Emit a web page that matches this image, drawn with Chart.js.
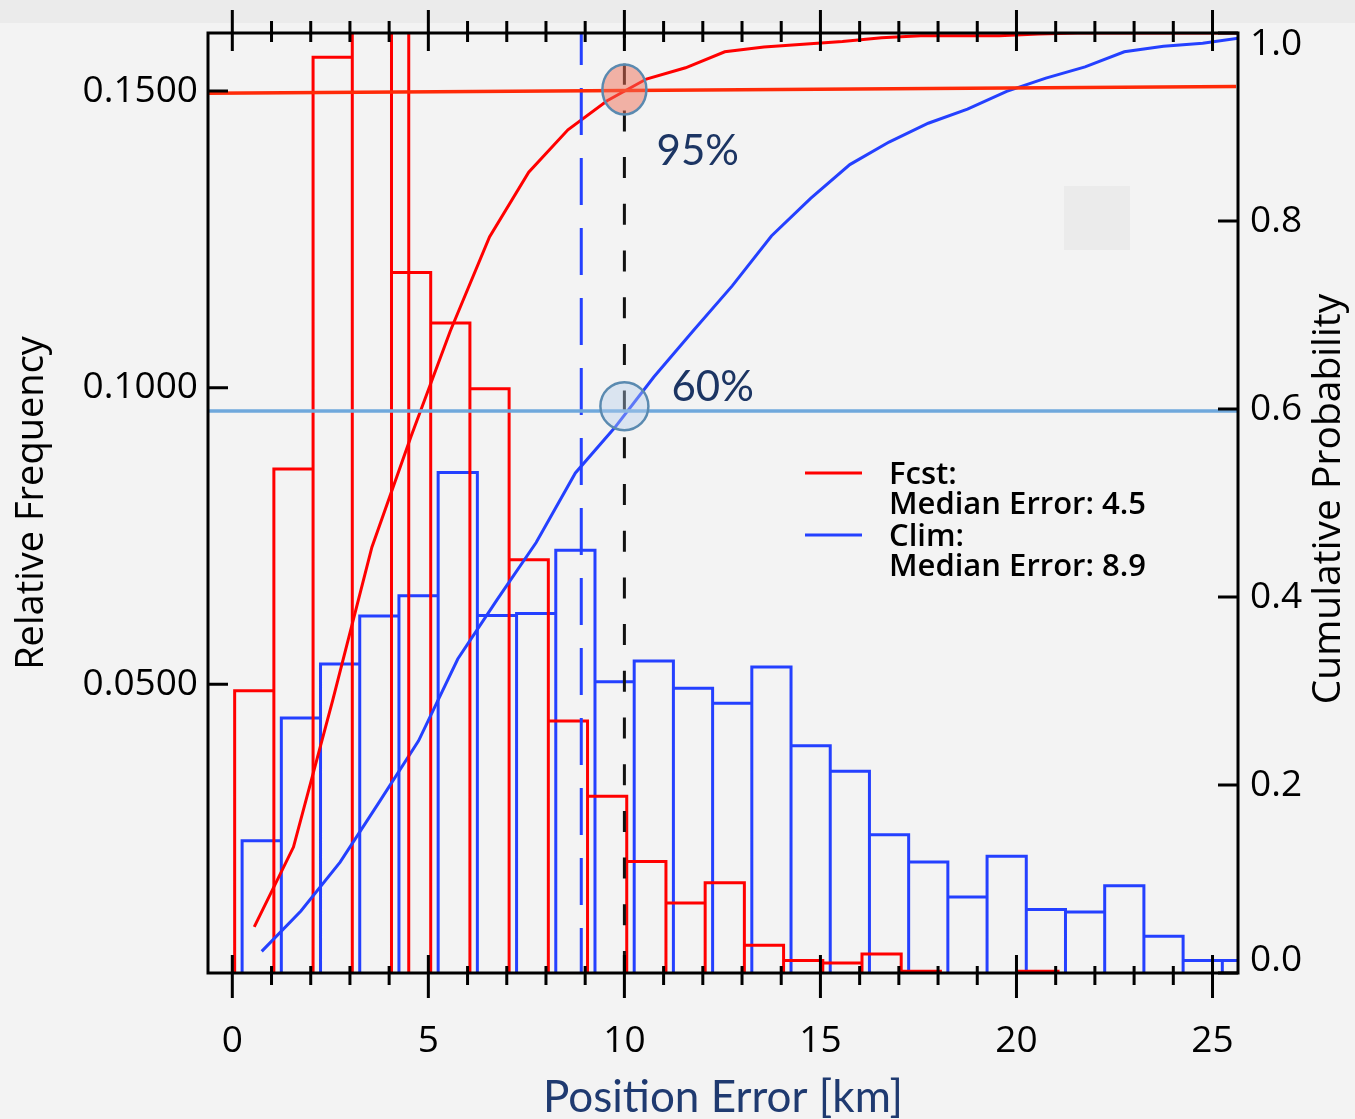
<!DOCTYPE html>
<html lang="en">
<head>
<meta charset="UTF-8">
<title>Position Error</title>
<script src="https://cdn.jsdelivr.net/npm/chart.js"></script>
<style>
  html, body { margin: 0; padding: 0; background: #f3f3f3; }
  .wrap { position: relative; width: 1355px; height: 1119px; }
  .band { position: absolute; left: 0; top: 0; width: 1355px; height: 23px; background: #ebebeb; }
  .patch { position: absolute; left: 1064px; top: 186px; width: 66px; height: 64px; background: #ebebeb; }
  canvas { position: absolute; left: 0; top: 0; }
</style>
</head>
<body>
<div class="wrap">
  <div class="band"></div>
  <div class="patch"></div>
  <canvas id="grafico" width="1355" height="1119"></canvas>
</div>

<script>
    // histogram bins: left edge [km], width 1 km
    const fcstBinLeft = [0.06, 1.06, 2.06, 3.06, 4.06, 5.06, 6.06, 7.06, 8.06, 9.06, 10.06, 11.06, 12.06, 13.06,
        14.06, 15.06, 16.06, 17.06, 18.06, 19.06, 20.06, 21.06, 22.06, 23.06, 24.06, 25.06, 26.06];
    const fcstFreq = [0.0489, 0.0863, 0.1557, 0.162, 0.1194, 0.1109, 0.0998, 0.0710, 0.0438, 0.0311, 0.0201, 0.0131,
        0.0165, 0.0060, 0.0034, 0.0030, 0.0045, 0.0016, 0, 0, 0.0016, 0, 0, 0, 0, 0, 0];

    const climBinLeft = [0.25, 1.25, 2.25, 3.25, 4.25, 5.25, 6.25, 7.25, 8.25, 9.25, 10.25, 11.25, 12.25, 13.25,
        14.25, 15.25, 16.25, 17.25, 18.25, 19.25, 20.25, 21.25, 22.25, 23.25, 24.25, 25.25];
    const climFreq = [0.0236, 0.0443, 0.0534, 0.0615, 0.0649, 0.0857, 0.0616, 0.0619, 0.0726, 0.0504, 0.0539, 0.0493,
        0.0468, 0.0529, 0.0396, 0.0353, 0.0246, 0.0200, 0.0141, 0.0210, 0.0120, 0.0116, 0.0160, 0.0075, 0.0034, 0.0034];

    // cumulative probability curves
    const fcstCdfKm = [0.56, 1.56, 2.56, 3.56, 4.56, 5.56, 6.56, 7.56, 8.56, 9.56, 10.56, 11.56, 12.56, 13.56,
        14.56, 15.56, 16.56, 17.56, 18.56, 19.56, 20.56, 21.56, 22.56, 23.56, 24.56, 25.56, 26.56];
    const fcstCdf = [0.049, 0.134, 0.290, 0.453, 0.571, 0.683, 0.783, 0.852, 0.897, 0.928, 0.951, 0.963, 0.980,
        0.985, 0.988, 0.991, 0.995, 0.997, 0.997, 0.997, 0.999, 1.0, 1.0, 1.0, 1.0, 1.0, 1.0];

    const climCdfKm = [0.75, 1.75, 2.75, 3.75, 4.75, 5.75, 6.75, 7.75, 8.75, 9.75, 10.75, 11.75, 12.75, 13.75,
        14.75, 15.75, 16.75, 17.75, 18.75, 19.75, 20.75, 21.75, 22.75, 23.75, 24.75, 25.75];
    const climCdf = [0.023, 0.066, 0.118, 0.182, 0.247, 0.334, 0.397, 0.458, 0.532, 0.580, 0.634, 0.683, 0.731,
        0.784, 0.824, 0.860, 0.884, 0.904, 0.919, 0.938, 0.952, 0.964, 0.980, 0.986, 0.989, 0.995];

    const fcstMedian = 4.5;
    const climMedian = 8.9;
    const refKm = 10;
    const fcstLevel = [0.936, 0.943];   // 95% guide (left end, right end)
    const climLevel = 0.598;            // 60% guide

    const kmTicks = [0, 5, 10, 15, 20, 25];
    const freqTicks = [0.05, 0.10, 0.15];
    const probTicks = [0, 0.2, 0.4, 0.6, 0.8, 1.0];

    const callouts = [
        { text: '95%', ringP: 0.94, km: 10.82, p: 0.874 },
        { text: '60%', ringP: 0.603, km: 11.2, p: 0.623 }
    ];
    const legendItems = [
        { lines: ['Fcst:', 'Median Error: ' + fcstMedian], color: '#ff0000' },
        { lines: ['Clim:', 'Median Error: ' + climMedian], color: '#2440ff' }
    ];

    const xMin = -0.62, xMax = 25.65;
    const binWidth = 1;

    function contorno(lefts, heights) {
        let pts = [];
        for (let i = 0; i < lefts.length; i++) {
            let a = lefts[i], b = a + binWidth;
            pts.push({ x: a, y: 0 }, { x: a, y: heights[i] }, { x: b, y: heights[i] }, { x: b, y: 0 });
        }
        return pts;
    }

    function curva(xs, ys) {
        return xs.map((v, i) => ({ x: v, y: ys[i] }));
    }

    Chart.defaults.font.family = "'Open Sans', 'DejaVu Sans', sans-serif";
    Chart.defaults.color = '#000';

    // ticks crossing the frame, plus the frame itself
    const moldura = {
        id: 'moldura',
        afterDraw(chart) {
            const { ctx, chartArea: a, scales: { x, y, y2 } } = chart;
            ctx.save();
            ctx.strokeStyle = '#000';
            ctx.lineWidth = 3;
            ctx.strokeRect(a.left, a.top, a.right - a.left, a.bottom - a.top);
            ctx.beginPath();
            for (let v = Math.ceil(x.min); v <= x.max; v++) {
                let px = x.getPixelForValue(v);
                let major = v % 5 === 0;
                ctx.moveTo(px, a.bottom - (major ? 18 : 7));
                ctx.lineTo(px, a.bottom + (major ? 25 : 12));
                ctx.moveTo(px, a.top - (major ? 23 : 12));
                ctx.lineTo(px, a.top + (major ? 18 : 9));
            }
            y.ticks.forEach(t => {
                let py = y.getPixelForValue(t.value);
                ctx.moveTo(a.left, py); ctx.lineTo(a.left + 20, py);
            });
            y2.ticks.forEach(t => {
                let py = y2.getPixelForValue(t.value);
                ctx.moveTo(a.right - 20, py); ctx.lineTo(a.right, py);
            });
            ctx.stroke();

            // right axis labels, kept inside the frame at the ends
            ctx.fillStyle = '#000';
            ctx.font = "500 37px 'Open Sans'";
            ctx.textAlign = 'left';
            ctx.textBaseline = 'middle';
            y2.ticks.forEach(t => {
                let py = y2.getPixelForValue(t.value);
                py = Math.min(Math.max(py, a.top + 11), a.bottom - 13);
                ctx.fillText(t.value.toFixed(1), a.right + 12, py);
            });

            // right axis title, reading upward
            ctx.save();
            ctx.translate(1329, 499);
            ctx.rotate(-Math.PI / 2);
            ctx.textAlign = 'center';
            ctx.font = "39px 'Open Sans'";
            ctx.fillText('Cumulative Probability', 0, 0);
            ctx.restore();

            // legend
            ctx.font = "600 31px 'Open Sans'";
            let ly = 473;
            legendItems.forEach(item => {
                ctx.strokeStyle = item.color;
                ctx.lineWidth = 3;
                ctx.beginPath();
                ctx.moveTo(805, ly); ctx.lineTo(862, ly);
                ctx.stroke();
                item.lines.forEach((s, k) => {
                    ctx.fillText(s, 889, ly + 2 + k * 30);
                });
                ly += 62;
            });
            ctx.restore();
        }
    };

    const marcas = {
        id: 'marcas',
        afterDatasetsDraw(chart) {
            const { ctx, scales: { x, y2 } } = chart;
            ctx.save();
            callouts.forEach((c, i) => {
                let cx = x.getPixelForValue(refKm);
                let cy = y2.getPixelForValue(c.ringP);
                ctx.beginPath();
                if (i === 0) {
                    ctx.ellipse(cx, cy, 22, 25, 0, 0, Math.PI * 2);
                    ctx.fillStyle = 'rgba(240,112,88,0.5)';
                } else {
                    ctx.ellipse(cx, cy, 24, 24, 0, 0, Math.PI * 2);
                    ctx.fillStyle = 'rgba(180,205,235,0.4)';
                }
                ctx.fill();
                ctx.lineWidth = 2.5;
                ctx.strokeStyle = '#5a8ab0';
                ctx.stroke();

                ctx.fillStyle = '#1c3563';
                ctx.font = "42px Lato";
                ctx.textAlign = 'left';
                ctx.textBaseline = 'middle';
                ctx.fillText(c.text, x.getPixelForValue(c.km), y2.getPixelForValue(c.p));
            });
            ctx.restore();
        }
    };

    const ctx = document.getElementById('grafico');

    new Chart(ctx, {
        type: 'line',
        data: {
            datasets: [
                {
                    data: [{ x: xMin, y: climLevel }, { x: xMax, y: climLevel }],
                    yAxisID: 'y2', borderColor: '#6fa8dc', borderWidth: 3.5
                },
                {
                    data: [{ x: xMin, y: fcstLevel[0] }, { x: 25.6, y: fcstLevel[1] }],
                    yAxisID: 'y2', borderColor: '#ff2a08', borderWidth: 3.5
                },
                {
                    data: [{ x: refKm, y: 1 }, { x: refKm, y: 0 }],
                    yAxisID: 'y2', borderColor: '#111', borderWidth: 3,
                    borderDash: [21, 25.7], borderDashOffset: 16
                },
                {
                    data: [{ x: climMedian, y: 1 }, { x: climMedian, y: 0 }],
                    yAxisID: 'y2', borderColor: '#2440ff', borderWidth: 3,
                    borderDash: [47, 23], borderDashOffset: 15
                },
                {
                    data: [{ x: fcstMedian, y: 1 }, { x: fcstMedian, y: 0 }],
                    yAxisID: 'y2', borderColor: '#ff0000', borderWidth: 3
                },
                {
                    label: 'Fcst CDF',
                    data: curva(fcstCdfKm, fcstCdf),
                    yAxisID: 'y2', borderColor: '#ff0000', borderWidth: 3
                },
                {
                    label: 'Clim CDF',
                    data: curva(climCdfKm, climCdf),
                    yAxisID: 'y2', borderColor: '#2440ff', borderWidth: 3
                },
                {
                    label: 'Fcst',
                    data: contorno(fcstBinLeft, fcstFreq),
                    yAxisID: 'y', borderColor: '#ff0000', borderWidth: 3
                },
                {
                    label: 'Clim',
                    data: contorno(climBinLeft, climFreq),
                    yAxisID: 'y', borderColor: '#2440ff', borderWidth: 3
                }
            ]
        },
        options: {
            responsive: false,
            animation: false,
            devicePixelRatio: 1,
            layout: { padding: 0 },
            elements: {
                point: { radius: 0, hoverRadius: 0 },
                line: { tension: 0, fill: false, borderJoinStyle: 'miter', borderCapStyle: 'butt' }
            },
            plugins: {
                legend: { display: false },
                tooltip: { enabled: false }
            },
            scales: {
                x: {
                    type: 'linear', position: 'bottom', min: xMin, max: xMax,
                    grid: { display: false }, border: { display: false },
                    afterBuildTicks: s => { s.ticks = kmTicks.map(v => ({ value: v })); },
                    afterFit: s => { s.height = 146; },
                    ticks: {
                        padding: 38, maxRotation: 0, autoSkip: false,
                        font: { size: 37, weight: 500 },
                        callback: v => String(v)
                    },
                    title: {
                        display: true, text: 'Position Error [km]', color: '#1f3a70',
                        font: { family: 'Lato', size: 44 }, padding: { top: 0, bottom: -5 }
                    }
                },
                xTop: {
                    type: 'linear', position: 'top', min: xMin, max: xMax,
                    grid: { display: false }, border: { display: false },
                    ticks: { display: false },
                    afterFit: s => { s.height = 33; }
                },
                y: {
                    type: 'linear', position: 'left', min: 0.0013, max: 0.1598,
                    grid: { display: false }, border: { display: false },
                    afterBuildTicks: s => { s.ticks = freqTicks.map(v => ({ value: v })); },
                    afterFit: s => { s.width = 208; },
                    ticks: {
                        padding: 2, font: { size: 37, weight: 500 },
                        callback: v => v.toFixed(4)
                    },
                    title: {
                        display: true, text: 'Relative Frequency',
                        font: { size: 38 }, padding: { top: 9, bottom: 0 }
                    }
                },
                y2: {
                    type: 'linear', position: 'right', min: 0, max: 1,
                    grid: { display: false }, border: { display: false },
                    afterBuildTicks: s => { s.ticks = probTicks.map(v => ({ value: v })); },
                    afterFit: s => { s.width = 117; },
                    ticks: { display: false }
                }
            }
        },
        plugins: [marcas, moldura]
    });
</script>
</body>
</html>
